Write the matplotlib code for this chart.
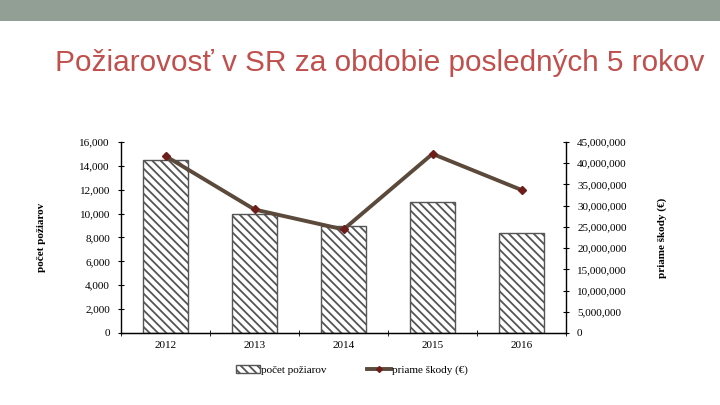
import matplotlib
matplotlib.use("Agg")
import matplotlib.pyplot as plt
import matplotlib.ticker as mticker
from matplotlib.patches import Patch, Rectangle
from matplotlib.lines import Line2D
import numpy as np

plt.rcParams["hatch.linewidth"] = 1.3
plt.rcParams["hatch.color"] = "#222222"

# ── data ────────────────────────────────────────────────────────────
years = ["2012", "2013", "2014", "2015", "2016"]
fires = [14500, 9950, 9000, 11000, 8400]
damages = [41_700_000, 29_100_000, 24_400_000, 42_200_000, 33_700_000]

C_TITLE = "#c0504d"
C_BAND = "#919f95"
C_LINE = "#5b4a3b"
C_MARK = "#6e1e1a"
SERIF = "Liberation Serif"
HATCH = "\\\\\\\\"

fig = plt.figure(figsize=(7.2, 4.05), dpi=100)
fig.patch.set_facecolor("white")

# top band
fig.add_artist(Rectangle((0, 1 - 21 / 405), 1, 21 / 405, transform=fig.transFigure,
                         facecolor=C_BAND, edgecolor="none"))

fig.text(55 / 720, 1 - 63 / 405, "Požiarovosť v SR za obdobie posledných 5 rokov",
         fontsize=21.4, color=C_TITLE, family="Liberation Sans", va="center", ha="left")

ax1 = fig.add_axes([121 / 720, 1 - 333 / 405, 445 / 720, 191 / 405])
x = np.arange(len(years))
ax1.bar(x, fires, width=0.5, color="white", edgecolor="#555555", hatch=HATCH,
        linewidth=1.0, zorder=2)
ax1.set_xlim(-0.5, len(years) - 0.5)
ax1.set_ylim(0, 16000)
ax1.yaxis.set_major_locator(mticker.MultipleLocator(2000))
ax1.yaxis.set_major_formatter(mticker.FuncFormatter(lambda v, p: f"{int(v):,}"))
ax1.set_xticks(x)
ax1.set_xticklabels(years)
ax1.set_xticks(np.arange(-0.5, len(years)), minor=True)
ax1.tick_params(axis="x", which="major", length=0, pad=6)
ax1.tick_params(axis="x", which="minor", length=4, direction="inout")
ax1.tick_params(axis="y", length=4, direction="inout", pad=6)
for lab in ax1.get_xticklabels() + ax1.get_yticklabels():
    lab.set_family(SERIF)
    lab.set_fontsize(8)
ax1.spines["top"].set_visible(False)
ax1.spines["right"].set_visible(False)
for s in ("left", "bottom"):
    ax1.spines[s].set_linewidth(1.0)
ax1.set_ylabel("počet požiarov", family=SERIF, fontweight="bold", fontsize=8, labelpad=24)

ax2 = ax1.twinx()
ax2.plot(x, damages, color=C_LINE, linewidth=2.8, zorder=3)
ax2.plot(x, damages, linestyle="none", marker="D", markersize=4.5, color=C_MARK, zorder=4)
ax2.set_ylim(0, 45_000_000)
ax2.yaxis.set_major_locator(mticker.MultipleLocator(5_000_000))
ax2.yaxis.set_major_formatter(mticker.FuncFormatter(lambda v, p: f"{int(v):,}"))
ax2.tick_params(axis="y", length=4, direction="inout", pad=6)
for lab in ax2.get_yticklabels():
    lab.set_family(SERIF)
    lab.set_fontsize(8)
ax2.spines["top"].set_visible(False)
ax2.spines["left"].set_visible(False)
ax2.spines["right"].set_linewidth(1.0)
ax2.set_ylabel("priame škody (€)", family=SERIF, fontweight="bold", fontsize=8, labelpad=22)

handles = [
    Patch(facecolor="white", edgecolor="#555555", hatch=HATCH, label="počet požiarov"),
    Line2D([0], [0], color=C_LINE, linewidth=2.8, marker="D", markersize=3,
           markerfacecolor=C_MARK, markeredgecolor=C_MARK, label="priame škody (€)"),
]
fig.legend(handles=handles, loc="center", bbox_to_anchor=(352 / 720, 1 - 370 / 405),
           ncol=2, frameon=False, prop={"family": SERIF, "size": 8},
           handlelength=2.2, handletextpad=0.1, columnspacing=3.6)

fig.savefig("out.png", dpi=100)
